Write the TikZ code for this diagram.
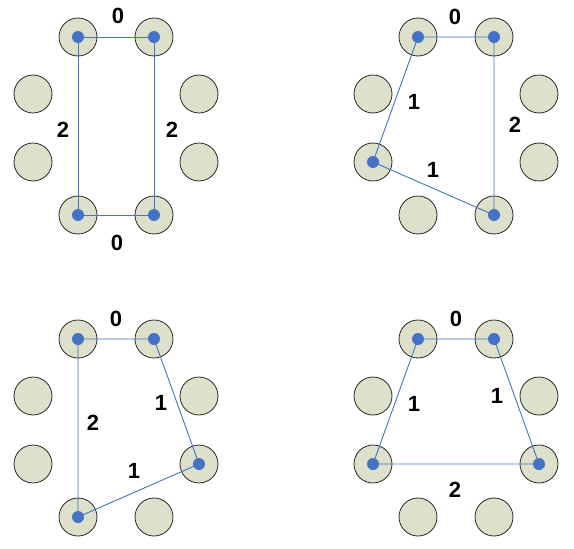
\documentclass[tikz,border=0pt]{standalone}
\usepackage{fontspec}
\setmainfont{Liberation Sans}
\definecolor{seatfill}{HTML}{DDE0CB}
\definecolor{dotblue}{HTML}{4472C4}
\tikzset{
  seat/.style={circle, draw=black!85, fill=seatfill, minimum size=38pt, inner sep=0pt, line width=0.8pt},
  cost/.style={font=\bfseries\fontsize{22}{22}\selectfont, inner sep=0pt},
  edge/.style={draw=dotblue, line width=0.9pt},
}
\begin{document}
\begin{tikzpicture}[x=1pt, y=-1pt]
\useasboundingbox (0,0) rectangle (574,549);
% eight seats round each table
\foreach \p/\dx/\dy in {1/0/0, 2/340/0, 3/0/302, 4/340/302}{
  \begin{scope}[shift={(\dx,\dy)}]
    \node[seat] (A\p) at (78,37) {};
    \node[seat] (B\p) at (154,37) {};
    \node[seat] (C\p) at (199,94) {};
    \node[seat] (D\p) at (199,162) {};
    \node[seat] (E\p) at (154,215) {};
    \node[seat] (F\p) at (78,215) {};
    \node[seat] (G\p) at (33,162) {};
    \node[seat] (H\p) at (33,94) {};
  \end{scope}
}
% tours
\draw[edge] (A1.center) -- (B1.center) -- (E1.center) -- (F1.center) -- (A1.center);
\draw[edge] (A2.center) -- (B2.center) -- (E2.center) -- (G2.center) -- (A2.center);
\draw[edge] (A3.center) -- (B3.center) -- (D3.center) -- (F3.center) -- (A3.center);
\draw[edge] (A4.center) -- (B4.center) -- (D4.center) -- (G4.center) -- (A4.center);
\foreach \s in {A1,B1,E1,F1,A2,B2,E2,G2,A3,B3,D3,F3,A4,B4,D4,G4}
  \fill[dotblue] (\s.center) circle (6pt);
% costs
\node[cost] (k1a) at (118,16) {0};
\node[cost] (k1b) at (63,130) {2};
\node[cost] (k1c) at (172,130) {2};
\node[cost] (k1d) at (117,243) {0};
\node[cost] (k2a) at (455,17) {0};
\node[cost] (k2b) at (414,102) {1};
\node[cost] (k2c) at (515,125) {2};
\node[cost] (k2d) at (433,170) {1};
\node[cost] (k3a) at (116,319) {0};
\node[cost] (k3b) at (161,403) {1};
\node[cost] (k3c) at (93,423) {2};
\node[cost] (k3d) at (134,471) {1};
\node[cost] (k4a) at (456,319) {0};
\node[cost] (k4b) at (414,404) {1};
\node[cost] (k4c) at (497,396) {1};
\node[cost] (k4d) at (455,490) {2};
\end{tikzpicture}
\end{document}
